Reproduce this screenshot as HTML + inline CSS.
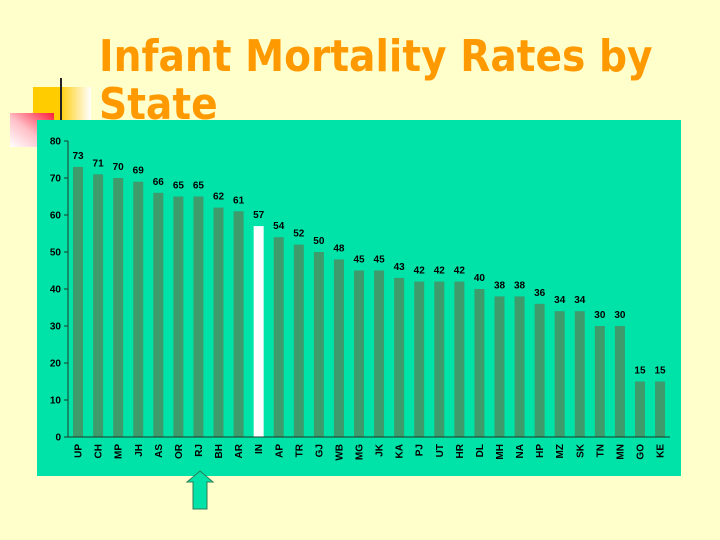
<!DOCTYPE html>
<html><head><meta charset="utf-8">
<style>
html,body{margin:0;padding:0;}
body{width:720px;height:540px;background:#FFFFCC;position:relative;overflow:hidden;font-family:"Liberation Sans",sans-serif;}
.t{position:absolute;left:99px;font-family:"DejaVu Sans","Liberation Sans",sans-serif;font-weight:bold;font-size:44px;color:#FF9900;white-space:nowrap;line-height:1;transform-origin:0 0;transform:scaleX(0.89);}
</style></head><body>
<svg width="720" height="540" style="position:absolute;left:0;top:0" xmlns="http://www.w3.org/2000/svg">
<defs>
<linearGradient id="yg" x1="0" y1="0" x2="1" y2="0">
<stop offset="0" stop-color="#FFCC00"/><stop offset="0.45" stop-color="#FFCC00"/><stop offset="1" stop-color="#FFFFFF"/>
</linearGradient>
<linearGradient id="rg" x1="1" y1="0" x2="0" y2="1">
<stop offset="0" stop-color="#FF1A3A"/><stop offset="0.55" stop-color="#FFC0C8"/><stop offset="1" stop-color="#FFFFFF"/>
</linearGradient>
</defs>
<rect x="33" y="87" width="58" height="40" fill="url(#yg)"/>
<rect x="10" y="113" width="44" height="34" fill="url(#rg)"/>
<line x1="61" y1="78" x2="61" y2="125" stroke="#222" stroke-width="2"/>
</svg>
<div class="t" style="top:35px">Infant Mortality Rates by</div>
<div class="t" style="top:83px">State</div>
<svg width="720" height="540" style="position:absolute;left:0;top:0" xmlns="http://www.w3.org/2000/svg" font-family="Liberation Sans, Arial, sans-serif" font-weight="bold">
<rect x="37" y="120" width="644" height="356" fill="#00E3A8"/>
<g fill="#3D9B6C">
<rect x="73.03" y="166.9" width="10" height="270.1"/>
<rect x="93.1" y="174.3" width="10" height="262.7"/>
<rect x="113.17" y="178" width="10" height="259"/>
<rect x="133.24" y="181.7" width="10" height="255.3"/>
<rect x="153.31" y="192.8" width="10" height="244.2"/>
<rect x="173.38" y="196.5" width="10" height="240.5"/>
<rect x="193.45" y="196.5" width="10" height="240.5"/>
<rect x="213.52" y="207.6" width="10" height="229.4"/>
<rect x="233.59" y="211.3" width="10" height="225.7"/>
<rect x="273.73" y="237.2" width="10" height="199.8"/>
<rect x="293.8" y="244.6" width="10" height="192.4"/>
<rect x="313.87" y="252" width="10" height="185"/>
<rect x="333.94" y="259.4" width="10" height="177.6"/>
<rect x="354.01" y="270.5" width="10" height="166.5"/>
<rect x="374.08" y="270.5" width="10" height="166.5"/>
<rect x="394.15" y="277.9" width="10" height="159.1"/>
<rect x="414.22" y="281.6" width="10" height="155.4"/>
<rect x="434.29" y="281.6" width="10" height="155.4"/>
<rect x="454.36" y="281.6" width="10" height="155.4"/>
<rect x="474.43" y="289" width="10" height="148"/>
<rect x="494.5" y="296.4" width="10" height="140.6"/>
<rect x="514.57" y="296.4" width="10" height="140.6"/>
<rect x="534.64" y="303.8" width="10" height="133.2"/>
<rect x="554.71" y="311.2" width="10" height="125.8"/>
<rect x="574.78" y="311.2" width="10" height="125.8"/>
<rect x="594.85" y="326" width="10" height="111"/>
<rect x="614.92" y="326" width="10" height="111"/>
<rect x="634.99" y="381.5" width="10" height="55.5"/>
<rect x="655.06" y="381.5" width="10" height="55.5"/>
</g>
<rect x="253.66" y="226.1" width="10" height="210.9" fill="#FFFFFF"/>
<g stroke="#1a3a2a" stroke-width="1">
<line x1="68" y1="141" x2="68" y2="437"/>
<line x1="68" y1="437" x2="670" y2="437"/>
<line x1="64" y1="141" x2="68" y2="141"/>
<line x1="64" y1="178" x2="68" y2="178"/>
<line x1="64" y1="215" x2="68" y2="215"/>
<line x1="64" y1="252" x2="68" y2="252"/>
<line x1="64" y1="289" x2="68" y2="289"/>
<line x1="64" y1="326" x2="68" y2="326"/>
<line x1="64" y1="363" x2="68" y2="363"/>
<line x1="64" y1="400" x2="68" y2="400"/>
<line x1="64" y1="437" x2="68" y2="437"/>
</g>
<g font-size="10" fill="#000" text-anchor="end">
<text x="61" y="144.5">80</text>
<text x="61" y="181.5">70</text>
<text x="61" y="218.5">60</text>
<text x="61" y="255.5">50</text>
<text x="61" y="292.5">40</text>
<text x="61" y="329.5">30</text>
<text x="61" y="366.5">20</text>
<text x="61" y="403.5">10</text>
<text x="61" y="440.5">0</text>
</g>
<g font-size="10" fill="#000" text-anchor="middle">
<text x="78.03" y="159">73</text>
<text x="98.1" y="166.3">71</text>
<text x="118.17" y="170">70</text>
<text x="138.24" y="173.7">69</text>
<text x="158.31" y="184.8">66</text>
<text x="178.38" y="188.5">65</text>
<text x="198.45" y="188.5">65</text>
<text x="218.52" y="199.6">62</text>
<text x="238.59" y="203.3">61</text>
<text x="258.66" y="218.1">57</text>
<text x="278.73" y="229.2">54</text>
<text x="298.8" y="236.6">52</text>
<text x="318.87" y="244">50</text>
<text x="338.94" y="251.4">48</text>
<text x="359.01" y="262.5">45</text>
<text x="379.08" y="262.5">45</text>
<text x="399.15" y="269.9">43</text>
<text x="419.22" y="273.6">42</text>
<text x="439.29" y="273.6">42</text>
<text x="459.36" y="273.6">42</text>
<text x="479.43" y="281">40</text>
<text x="499.5" y="288.4">38</text>
<text x="519.57" y="288.4">38</text>
<text x="539.64" y="295.8">36</text>
<text x="559.71" y="303.2">34</text>
<text x="579.78" y="303.2">34</text>
<text x="599.85" y="318">30</text>
<text x="619.92" y="318">30</text>
<text x="639.99" y="373.5">15</text>
<text x="660.06" y="373.5">15</text>
</g>
<g font-size="10" fill="#000" text-anchor="end">
<text transform="translate(81.6,444) rotate(-90)">UP</text>
<text transform="translate(101.7,444) rotate(-90)">CH</text>
<text transform="translate(121.7,444) rotate(-90)">MP</text>
<text transform="translate(141.8,444) rotate(-90)">JH</text>
<text transform="translate(161.9,444) rotate(-90)">AS</text>
<text transform="translate(181.9,444) rotate(-90)">OR</text>
<text transform="translate(202,444) rotate(-90)">RJ</text>
<text transform="translate(222.1,444) rotate(-90)">BH</text>
<text transform="translate(242.1,444) rotate(-90)">AR</text>
<text transform="translate(262.2,444) rotate(-90)">IN</text>
<text transform="translate(282.3,444) rotate(-90)">AP</text>
<text transform="translate(302.3,444) rotate(-90)">TR</text>
<text transform="translate(322.4,444) rotate(-90)">GJ</text>
<text transform="translate(342.5,444) rotate(-90)">WB</text>
<text transform="translate(362.5,444) rotate(-90)">MG</text>
<text transform="translate(382.6,444) rotate(-90)">JK</text>
<text transform="translate(402.7,444) rotate(-90)">KA</text>
<text transform="translate(422.7,444) rotate(-90)">PJ</text>
<text transform="translate(442.8,444) rotate(-90)">UT</text>
<text transform="translate(462.9,444) rotate(-90)">HR</text>
<text transform="translate(482.9,444) rotate(-90)">DL</text>
<text transform="translate(503,444) rotate(-90)">MH</text>
<text transform="translate(523.1,444) rotate(-90)">NA</text>
<text transform="translate(543.1,444) rotate(-90)">HP</text>
<text transform="translate(563.2,444) rotate(-90)">MZ</text>
<text transform="translate(583.3,444) rotate(-90)">SK</text>
<text transform="translate(603.3,444) rotate(-90)">TN</text>
<text transform="translate(623.4,444) rotate(-90)">MN</text>
<text transform="translate(643.5,444) rotate(-90)">GO</text>
<text transform="translate(663.6,444) rotate(-90)">KE</text>
</g>
<polygon points="200,471 213,482 207,482 207,509 193,509 193,482 187,482" fill="#00E3A8" stroke="#2E7D55" stroke-width="1"/>
</svg>
</body></html>
